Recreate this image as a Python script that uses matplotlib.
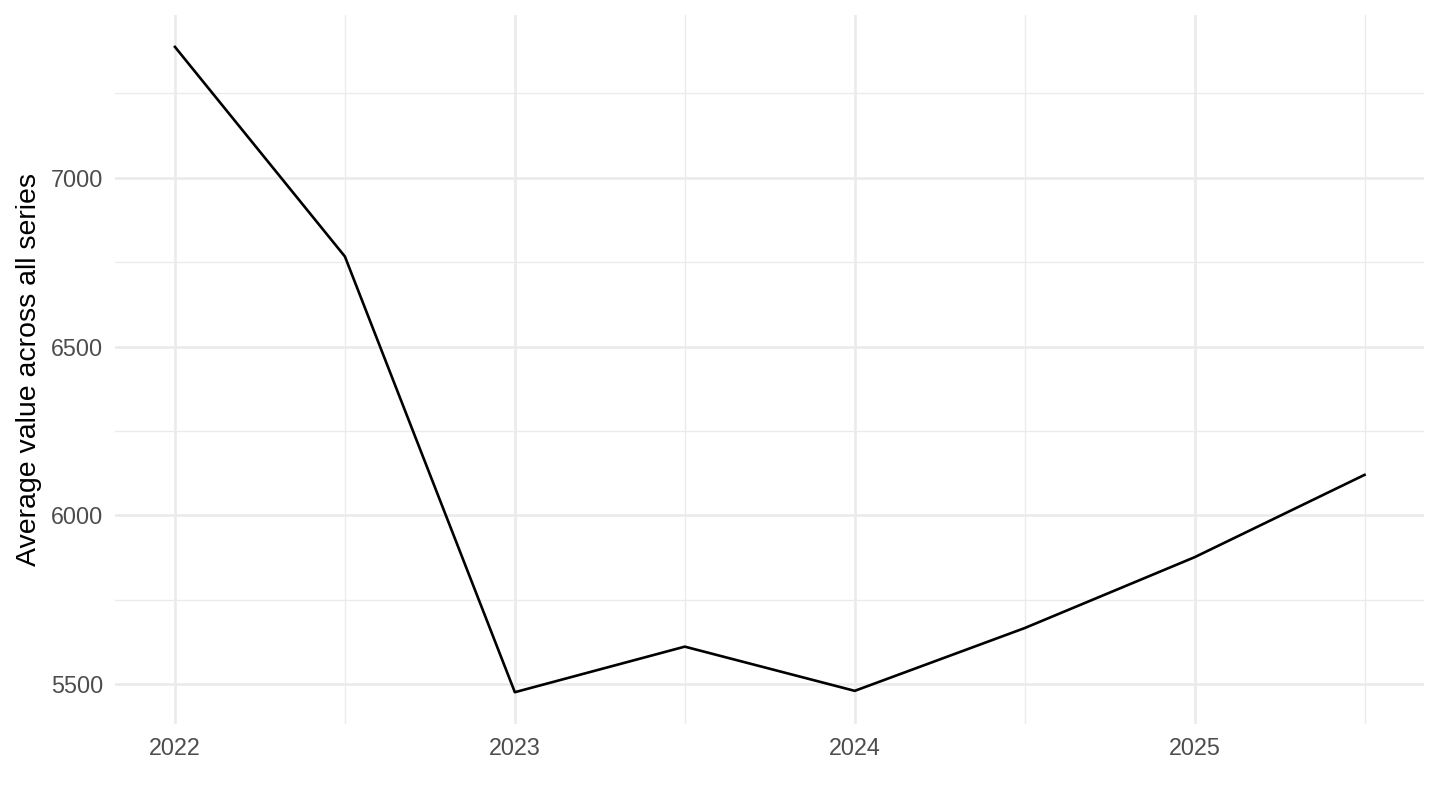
import matplotlib
matplotlib.use("Agg")
import matplotlib.pyplot as plt
from matplotlib.ticker import MultipleLocator

plt.rcParams['font.family'] = ['Liberation Sans', 'DejaVu Sans']

years = [2022.0, 2022.5, 2023.0, 2023.5, 2024.0, 2024.5, 2025.0, 2025.5]
avg_value = [7388, 6767, 5476, 5611, 5480, 5666, 5876, 6120]
x_ticks = [2022, 2023, 2024, 2025]
y_ticks = [5500, 6000, 6500, 7000]

fig = plt.figure(figsize=(14.4, 8.1), dpi=100)
ax = fig.add_axes([0.0802, 0.1056, 0.9087, 0.8763])

ax.plot(years, avg_value, color='black', linewidth=1.9, zorder=3)

# ggplot-like 5% expansion
xr = max(years) - min(years)
yr = max(avg_value) - min(avg_value)
ax.set_xlim(min(years) - 0.05 * xr, max(years) + 0.05 * xr)
ax.set_ylim(min(avg_value) - 0.05 * yr, max(avg_value) + 0.05 * yr)

ax.set_xticks(x_ticks)
ax.set_xticklabels([str(y) for y in x_ticks])
ax.set_yticks(y_ticks)
ax.xaxis.set_minor_locator(MultipleLocator(0.5))
ax.yaxis.set_minor_locator(MultipleLocator(250))

ax.grid(which='major', color='#EBEBEB', linewidth=1.9)
ax.grid(which='minor', color='#EBEBEB', linewidth=0.95)
ax.set_axisbelow(True)
for s in ax.spines.values():
    s.set_visible(False)
ax.tick_params(which='both', length=0, labelsize=16.8, labelcolor='#4D4D4D')
ax.tick_params(axis='x', pad=9)
ax.tick_params(axis='y', pad=9)

ax.set_ylabel('Average value across all series', fontsize=20.5, color='black', labelpad=6)

fig.savefig('out.png', dpi=100)
